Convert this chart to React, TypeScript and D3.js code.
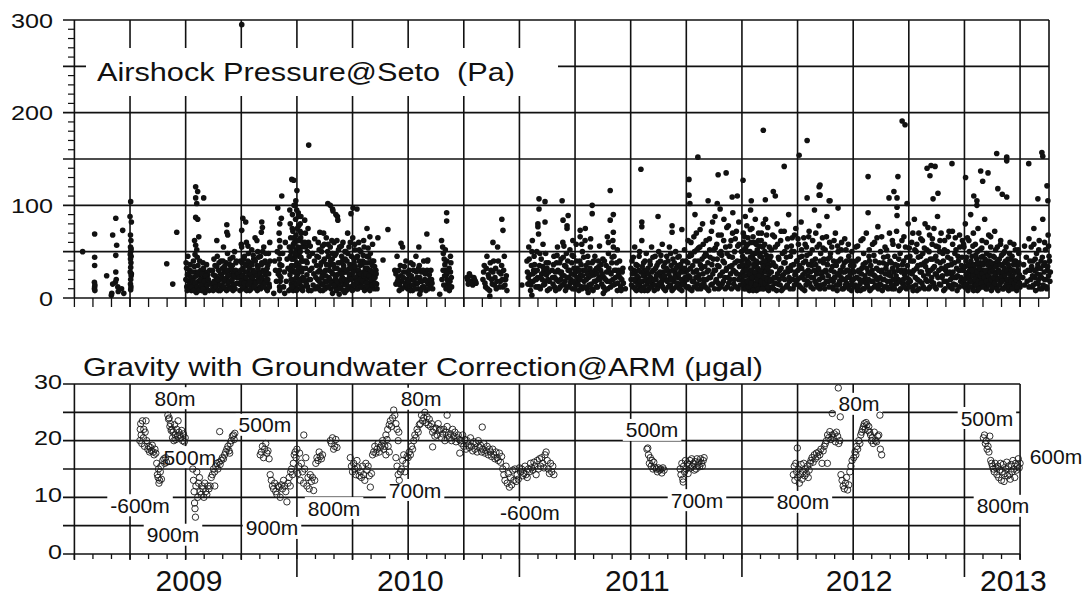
import { useEffect, useRef } from "react";
import * as d3 from "d3";

// Airshock pressure (Pa) as [thousandths of the year, value]
const pressure2008: [number, number][] = [
  [537,50],[591,69],[591,44],[591,35],[590,17],[592,14],[591,12],[590,10],[592,8],[645,24],[668,5],[666,3],[672,68],[686,86],[690,57],[686,46],[686,28],[688,20],[684,17],[672,15],[695,12],[697,7],[717,73],[722,5],[712,10],
  [753,104],[750,88],[756,82],[752,68],[754,62],[752,55],[753,50],[755,45],[752,42],[754,38],[753,33],[751,28],[755,24],[753,20],[752,15],[754,12],[753,9],[756,26],[751,47],[755,53],
  [915,37],[942,15],[960,71],
];
const pressure2009: [number, number][] = [
  [2,38],[5,12],[8,25],[12,18],[15,10],[18,30],[22,15],[25,8],[28,20],[32,12],[35,40],[38,22],[40,10],[44,28],[46,16],[48,6],
  [45,120],[54,115],[45,108],[81,108],[50,102],[45,87],[54,85],[40,62],[45,57],[50,52],[42,47],[52,44],[59,66],
  [55,35],[58,18],[62,25],[65,12],[68,30],[70,20],[72,8],[76,15],[78,38],[82,22],[85,12],[88,28],[92,18],[95,10],[100,25],[104,15],[108,30],
  [140,62],[122,12],[125,25],[128,18],[132,35],[135,10],[138,22],[142,45],[145,15],[148,30],[152,20],[155,8],[158,40],[160,25],[163,14],[166,32],[170,55],[172,18],[175,28],[178,10],[182,38],[185,22],[188,48],[190,15],[194,30],[197,12],[200,42],[203,25],[206,18],[210,35],[213,8],[216,28],[220,50],[223,15],[226,38],[229,22],
  [185,79],[185,71],[189,68],[257,86],[270,82],[252,73],
  [243,15],[246,40],[249,25],[252,55],[255,10],[258,32],[261,20],[264,45],[267,28],[270,12],[273,60],[276,35],[279,18],[282,48],[285,25],[288,8],[291,38],[294,22],[297,52],[300,14],[303,30],[306,42],[309,18],[312,65],[315,25],[318,10],[321,35],[324,50],[327,20],[330,28],[333,12],[336,45],[339,22],[342,38],[345,15],[348,30],[351,55],[354,18],[357,40],[360,25],[363,10],[366,32],[369,20],[372,48],[375,15],
  [342,82],[345,76],[340,71],[378,60],[414,97],[423,80],[432,110],[430,86],
  [422,62],[424,55],[423,48],[421,42],[424,36],[422,30],[423,24],[425,18],[422,12],[423,8],[396,5],[445,5],
  [477,128],[486,127],[500,116],[495,105],
  [468,95],[470,80],[472,65],[474,50],[476,35],[478,20],[480,90],[482,72],[484,58],[486,42],[488,28],[490,12],[492,100],[494,85],[496,68],[498,52],[500,38],[502,25],[504,10],[506,92],[508,78],[510,62],[512,45],[514,30],[516,18],[518,88],[520,70],[522,55],[524,40],[526,22],[471,30],[475,15],[483,8],[489,60],[493,45],[497,22],[501,75],[505,55],[509,35],[513,15],[517,65],[521,40],[525,12],[479,75],[487,100],[499,95],[507,88],[515,80],
  [469,25],[473,10],[477,42],[481,55],[485,18],[491,35],[495,62],[499,15],[503,48],[507,28],[511,20],[515,50],[519,10],[523,32],[527,60],
  [535,84],[538,70],[540,55],[542,40],[545,25],[548,12],[550,75],[552,60],[555,45],[558,30],[537,18],[547,50],[553,8],[556,20],[553,165],
  [590,45],[593,20],[596,60],[599,10],[603,71],[605,35],[608,15],[611,50],[614,25],[617,8],[620,40],[623,58],[626,18],[629,30],[632,65],[635,12],[639,102],[641,45],[644,22],[647,35],[650,55],[653,10],[656,28],[659,42],[662,94],[664,18],[667,60],[670,32],[673,12],[676,48],[679,25],[682,88],[684,84],[686,38],[689,15],[692,55],
  [650,100],[660,96],[675,90],[752,97],[770,96],[743,91],[815,75],[828,66],[864,65],[909,74],[887,41],
  [695,30],[698,12],[701,45],[704,22],[707,60],[710,35],[713,15],[716,50],[719,28],[722,8],[725,40],[728,70],[731,20],[734,55],[737,32],[740,12],[745,45],[748,25],[751,65],[754,15],[757,38],[760,52],[763,20],[766,30],[769,10],[772,45],[775,25],[778,60],[781,15],[784,35],[787,50],[790,22],[793,12],[796,40],[799,28],[802,55],[805,18],[808,32],[811,10],[814,45],[818,22],[821,38],[824,15],[827,28],[830,48],[833,12],[836,25],[839,35],[842,18],[845,40],[848,10],[851,22],[855,30],[858,15],
  [700,18],[712,28],[724,14],[736,22],[748,10],[760,30],[772,16],[784,24],[796,12],[808,20],[820,30],[832,18],[844,26],
  [660,5],[690,4],[715,6],
  [940,30],[945,15],[950,45],[955,22],[960,8],[965,35],[970,18],[975,55],[980,28],[985,12],[990,40],[995,20],[998,10],[968,59],
];
// denser core of the 2009 swarms
const pressure2009b: [number, number][] = [
  [1,20],[4,32],[7,8],[10,45],[13,26],[16,14],[20,36],[23,22],[26,12],[30,28],[33,18],[36,8],[39,34],[42,16],[47,24],[52,12],[57,28],[60,8],[63,40],[66,20],[69,14],[73,26],[77,10],[80,32],[84,18],[87,6],[90,24],[94,36],[97,14],[102,20],[106,8],[109,16],
  [121,30],[124,8],[127,42],[130,16],[134,24],[137,12],[140,34],[144,20],[147,8],[150,38],[154,14],[157,26],[161,10],[164,22],[168,40],[171,12],[174,34],[177,20],[180,28],[184,8],[187,30],[191,24],[195,18],[198,36],[202,10],[205,32],[209,20],[212,44],[215,14],[218,24],[222,10],[225,30],[228,40],[232,16],[234,26],
  [241,22],[244,8],[247,30],[250,18],[253,38],[256,24],[259,12],[262,42],[265,16],[268,36],[271,22],[274,8],[277,28],[280,40],[283,14],[286,32],[289,18],[292,26],[295,10],[298,36],[301,22],[304,46],[307,12],[310,28],[313,40],[316,16],[319,24],[322,8],[325,32],[328,44],[331,18],[334,26],[337,10],[340,36],[343,22],[346,50],[349,12],[352,28],[355,38],[358,16],[361,30],[364,20],[367,8],[370,36],[373,26],[376,12],[379,40],
  [400,40],[404,30],[408,18],[412,50],[416,26],[420,70],[428,22],[432,35],[436,48],[440,12],[444,28],[448,60],[452,18],[456,42],[460,32],[464,8],[466,55],[470,45],[474,20],[478,12],[482,30],[486,65],[490,48],[494,28],[498,8],[502,62],[506,32],[510,18],[514,72],[518,44],[522,28],[526,8],[530,40],[533,20],[536,60],[539,32],[543,15],[546,38],
  [561,20],[564,8],[567,32],[570,48],[573,14],[576,26],[579,40],[582,10],[585,22],[588,35],[591,12],[594,28],[597,44],[600,18],[602,30],[606,8],[609,38],[612,22],[615,56],[618,14],[621,28],[624,42],[627,10],[630,24],[633,36],[636,18],[638,50],[642,12],[645,30],[648,20],[651,40],[654,16],[657,62],[661,26],[665,36],[668,14],[671,46],[674,22],[677,8],[680,32],[683,18],[687,52],[690,26],[693,10],[696,38],[699,20],
  [702,26],[705,40],[708,8],[711,32],[714,20],[717,42],[720,14],[723,30],[726,18],[729,48],[732,10],[735,26],[738,36],[742,20],[746,32],[749,8],[753,28],[756,42],[759,14],[762,34],[765,22],[768,44],[771,18],[774,10],[777,30],[780,40],[783,20],[786,26],[789,12],[792,36],[795,18],[798,46],[801,24],[804,8],[807,38],[810,26],[813,16],[816,32],[819,12],[822,44],[825,24],[828,8],[831,30],[834,20],[837,40],[840,14],[843,28],[846,22],[849,34],[852,16],[856,26],[860,10],
  [945,26],[952,18],[958,30],[962,14],[967,24],[972,10],[978,22],[983,34],[988,16],[993,28],[997,14],
  [560,56],[580,64],[600,52],[620,70],[640,58],[660,48],[680,62],[700,56],[720,50],[740,60],[760,58],[780,52],[800,62],[820,54],[840,58],[250,58],[280,56],[320,62],[360,48],
];
const pressure2010: [number, number][] = [
  [3,25],[8,12],[12,38],[16,20],[20,8],[25,30],[30,15],[35,45],[40,22],[45,10],[50,35],[55,18],[60,28],[65,12],[70,40],[75,20],[80,8],[85,30],[90,15],[95,25],[100,12],[105,20],[110,10],
  [48,55],[84,69],[88,41],[52,4],
  [150,62],[155,55],[158,48],[162,42],[165,36],[168,30],[172,25],[175,20],[178,15],[182,10],[185,8],[188,18],[190,28],[192,38],[195,12],[173,92],[173,83],[142,4],
  [264,22],[270,15],[275,26],[282,18],[290,14],[298,20],[305,16],
  [336,20],[342,35],[348,12],[354,45],[360,25],[366,8],[372,30],[378,15],[384,40],[390,22],[396,10],[402,55],[408,28],[414,18],[420,35],[426,12],[432,45],[438,20],[444,8],
  [421,85],[426,73],[381,60],[367,2],[511,14],
  [534,40],[538,15],[542,55],[546,25],[550,8],[554,35],[558,62],[562,18],[566,45],[570,28],[574,12],[578,50],[582,22],[586,69],[590,35],[594,10],[598,42],[602,20],[606,58],[610,30],[614,15],[618,48],[622,25],[626,8],[630,38],[634,18],
  [540,22],[552,14],[564,30],[576,20],[588,12],[600,26],[612,18],[624,32],
  [588,107],[588,96],[583,80],[583,77],[615,104],[615,82],
  [647,30],[651,15],[655,45],[659,22],[663,8],[667,38],[671,55],[675,18],[679,28],[683,12],[687,42],[691,25],[695,60],[699,15],[703,35],[707,8],[711,48],[715,22],[719,30],[723,12],[727,52],[731,20],[735,38],[739,10],[743,45],[747,25],[751,15],[755,58],[759,32],[763,18],[767,8],[771,40],[775,25],[779,12],[783,50],[787,30],[791,18],[795,62],[799,35],[803,10],[807,45],[811,22],[815,28],[819,55],[823,15],[827,38],[831,8],[835,25],[839,45],[843,18],[847,32],[851,12],[855,40],[859,22],
  [692,105],[696,84],[719,89],[714,78],[714,75],[773,73],[773,66],[796,75],[827,100],[827,91],[556,3],[809,6],
  [908,116],[922,90],[908,84],[922,71],[920,62],[922,55],[895,66],[976,10],[877,5],
  [865,30],[870,15],[875,42],[880,22],[885,8],[890,35],[895,18],[900,48],[905,28],[910,12],[915,38],[920,20],[925,45],[930,15],[935,30],[940,8],[945,25],[950,40],[955,12],[960,20],[965,32],
];
const pressure2010b: [number, number][] = [
  [2,18],[6,30],[10,8],[14,24],[18,14],[22,36],[27,20],[32,10],[37,28],[42,16],[47,32],[52,22],[57,8],[62,18],[67,30],[72,12],[77,26],[82,18],[87,40],[92,10],[97,20],[102,30],[107,16],
  [152,20],[157,30],[160,14],[164,24],[167,52],[170,10],[174,40],[177,28],[180,18],[184,32],[187,12],[190,45],[194,22],
  [267,20],[278,24],[286,16],[295,22],[302,18],
  [339,28],[345,16],[351,32],[357,10],[363,22],[369,38],[375,20],[381,28],[387,14],[393,32],[399,18],[405,40],[411,12],[417,26],[423,20],[429,30],[435,14],[441,24],
  [536,28],[544,42],[548,18],[556,50],[560,26],[568,36],[572,20],[580,30],[584,12],[592,48],[596,22],[604,34],[608,14],[616,26],[620,38],[628,20],[632,28],[636,10],
  [649,22],[653,36],[657,12],[661,28],[665,20],[669,46],[673,30],[677,10],[681,38],[685,20],[689,28],[693,14],[697,44],[701,24],[705,18],[709,34],[713,12],[717,40],[721,22],[725,30],[729,16],[733,26],[737,46],[741,18],[745,32],[749,10],[753,28],[757,40],[761,22],[765,14],[769,30],[773,20],[777,36],[781,10],[785,24],[789,44],[793,12],[797,30],[801,20],[805,26],[809,38],[813,14],[817,32],[821,24],[825,10],[829,28],[833,40],[837,18],[841,30],[845,12],[849,26],[853,20],[857,34],
  [862,20],[867,36],[872,26],[877,12],[882,40],[887,20],[892,28],[897,10],[902,32],[907,18],[912,26],[917,44],[922,14],[927,30],[932,22],[937,38],[942,16],[947,30],[952,22],[957,8],[962,28],[967,16],
  [700,56],[740,62],[780,58],[820,64],[860,56],[900,60],[940,52],
];
const pressure2011: [number, number][] = [
  [2,20],[6,40],[10,12],[14,30],[18,55],[22,18],[26,8],[30,35],[34,22],[38,45],[42,12],[46,28],[50,62],[54,18],[58,38],[62,8],[66,25],[70,48],[74,15],[78,32],[82,10],[86,40],[90,22],[94,55],[98,15],[102,30],[106,8],[110,45],[114,20],[118,35],[122,12],[126,50],[130,25],[134,40],[138,15],[142,58],[146,28],[150,10],[154,38],[158,20],[162,45],[166,30],[170,12],[174,55],[178,22],[182,35],[186,8],[190,42],[194,18],[198,28],[202,50],[206,12],[210,35],[214,22],[218,45],[222,15],[226,30],[230,8],[234,40],[238,20],[242,52],[246,28],[250,12],
  [20,28],[40,16],[60,30],[80,20],[100,14],[120,26],[140,18],[160,32],[180,14],[200,24],[220,34],[240,16],
  [46,139],[50,82],[50,77],[123,88],[186,78],[186,71],[230,74],[262,128],[262,111],[266,102],[302,152],[289,90],
  [255,30],[259,12],[263,45],[267,22],[271,60],[275,8],[279,35],[283,18],[287,50],[291,28],[295,70],[299,15],[303,40],[307,25],[311,55],[315,10],[319,32],[323,80],[327,20],[331,45],[335,12],[339,62],[343,28],[347,38],[351,8],[355,52],[359,22],[363,72],[367,15],[371,42],[375,30],[379,88],[383,18],[387,58],[391,35],[395,10],[399,48],[403,25],[407,68],[411,15],[415,40],[419,85],[423,22],[427,55],[431,32],[435,12],[439,78],[443,45],[447,20],[451,62],[455,35],[459,92],[463,15],[467,50],[471,28],[475,72],[479,40],[483,10],[487,58],[491,25],
  [393,133],[429,135],[348,105],[389,102],[402,96],[456,109],[479,110],[505,127],
  [500,20],[503,45],[506,70],[509,10],[512,32],[515,88],[518,55],[521,15],[524,40],[527,65],[530,25],[533,8],[536,50],[539,95],[542,30],[545,75],[548,12],[551,42],[554,60],[557,22],[560,85],[563,35],[566,8],[569,52],[572,18],[575,70],[578,28],[581,45],[584,12],[587,62],[590,38],[593,20],[596,80],[599,10],[602,50],[605,30],[608,15],[611,68],[614,42],[617,22],[620,8],[623,55],[626,35],[504,28],[510,52],[516,18],[522,78],[528,35],[534,15],[540,60],[546,45],[552,25],[558,12],[564,58],[570,38],[576,15],[582,48],[588,25],[594,55],[600,32],[606,85],[612,18],[618,40],[624,28],
  [507,14],[513,24],[519,36],[525,12],[531,20],[537,30],[543,18],[549,26],[555,34],[561,16],[567,24],[573,30],[579,10],[585,20],[591,28],[597,14],[603,22],[609,36],[615,12],[621,18],
  [596,181],[542,105],[605,106],[641,115],[650,110],[690,142],
  [630,45],[634,20],[638,68],[642,10],[646,35],[650,55],[654,22],[658,80],[662,15],[666,42],[670,30],[674,62],[678,8],[682,48],[686,25],[690,72],[694,38],[698,12],[702,55],[706,28],[710,90],[714,18],[718,45],[722,35],[726,65],[730,10],[734,50],[738,25],[742,75],[746,40],
  [757,154],[793,170],[793,108],[847,120],[847,111],[892,105],
  [750,20],[754,58],[758,35],[762,12],[766,82],[770,45],[774,25],[778,65],[782,8],[786,40],[790,55],[794,18],[798,30],[802,72],[806,48],[810,12],[814,35],[818,62],[822,22],[826,95],[830,42],[834,15],[838,55],[842,30],[846,78],[850,10],[854,48],[858,25],[862,65],[866,38],[870,15],[874,52],[878,28],[882,88],[886,42],[890,18],[894,60],
  [851,122],[851,111],[896,105],[932,97],
  [900,30],[904,55],[908,12],[912,40],[916,22],[920,70],[924,35],[928,8],[932,50],[936,25],[940,15],[944,42],[948,60],[952,28],[956,10],[960,38],[964,20],[968,52],[972,30],[976,12],[980,45],[984,22],[988,35],[992,8],[996,28],
  [910,18],[930,14],[950,20],[970,16],[990,14],
];
const pressure2011b: [number, number][] = [
  [1,32],[4,14],[8,26],[12,44],[16,20],[20,10],[24,36],[28,24],[32,14],[36,30],[40,50],[44,18],[48,8],[52,34],[56,24],[60,12],[64,40],[68,20],[72,30],[76,8],[80,26],[84,18],[88,36],[92,12],[96,28],[100,44],[104,20],[108,14],[112,32],[116,24],[120,10],[124,38],[128,16],[132,28],[136,46],[140,22],[144,12],[148,34],[152,24],[156,8],[160,30],[164,18],[168,40],[172,26],[176,14],[180,48],[184,20],[188,30],[192,10],[196,38],[200,22],[204,32],[208,16],[212,44],[216,26],[220,10],[224,36],[228,20],[232,28],[236,14],[240,32],[244,22],[248,40],
  [253,20],[257,38],[261,24],[265,10],[269,32],[273,46],[277,18],[281,28],[285,12],[289,40],[293,22],[297,30],[301,10],[305,54],[309,20],[313,36],[317,14],[321,42],[325,26],[329,16],[333,34],[337,48],[341,20],[345,10],[349,30],[353,22],[357,44],[361,14],[365,36],[369,26],[373,52],[377,10],[381,30],[385,20],[389,42],[393,16],[397,34],[401,24],[405,12],[409,46],[413,28],[417,18],[421,38],[425,10],[429,30],[433,48],[437,22],[441,16],[445,34],[449,26],[453,10],[457,44],[461,30],[465,20],[469,38],[473,12],[477,26],[481,56],[485,20],[489,34],[493,14],[497,40],
  [501,36],[505,18],[508,60],[511,24],[514,42],[517,10],[520,30],[523,50],[526,18],[529,12],[532,38],[535,26],[538,44],[541,16],[544,30],[547,22],[550,8],[553,36],[556,48],[559,28],[562,14],[565,40],[568,20],[571,32],[574,10],[577,24],[580,56],[583,30],[586,18],[589,44],[592,10],[595,34],[598,22],[601,40],[604,16],[607,28],[610,46],[613,20],[616,32],[619,12],[622,26],[625,42],[628,18],
  [632,28],[636,12],[640,38],[644,22],[648,16],[652,34],[656,8],[660,26],[664,44],[668,20],[672,14],[676,32],[680,24],[684,10],[688,38],[692,20],[696,28],[700,44],[704,14],[708,32],[712,22],[716,10],[720,30],[724,50],[728,20],[732,36],[736,14],[740,28],[744,18],[748,40],[752,30],[756,14],[760,44],[764,22],[768,32],[772,10],[776,38],[780,20],[784,28],[788,14],[792,46],[796,24],[800,36],[804,16],[808,28],[812,22],[816,40],[820,10],[824,30],[828,18],[832,36],[836,26],[840,12],[844,32],[848,20],[852,40],[856,14],[860,28],[864,22],[868,42],[872,10],[876,30],[880,18],[884,36],[888,24],[892,12],[896,44],[902,20],[906,34],[910,10],[914,28],[918,22],[922,36],[926,14],[930,26],[934,40],[938,18],[942,30],[946,22],[950,10],[954,34],[958,20],[962,28],[966,14],[970,40],[974,22],[978,30],[982,10],[986,26],[990,40],[994,18],[998,30],
  [258,62],[270,48],[284,66],[298,52],[312,74],[326,58],[340,46],[354,64],[368,82],[380,54],[394,68],[406,50],[418,62],[432,76],[446,56],[458,70],[470,64],[486,82],[498,50],[512,66],[526,58],[538,74],[550,66],[562,48],[574,62],[588,70],[602,58],[616,76],[632,52],[646,66],[660,58],[676,72],[692,50],[706,64],[722,56],[736,68],[752,64],[768,52],[784,58],[800,66],[816,52],[832,70],[848,58],[864,54],[880,66],[898,48],[914,62],[930,56],[946,52],[962,64],[978,58],[994,50],
];
const pressure2012: [number, number][] = [
  [67,131],[201,131],[220,191],[233,187],[67,92],[161,108],[183,115],[197,108],[111,77],[197,98],[197,89],[242,102],
  [3,35],[7,12],[11,55],[15,22],[19,8],[23,42],[27,28],[31,15],[35,62],[39,32],[43,10],[47,48],[51,20],[55,38],[59,70],[63,15],[67,28],[71,45],[75,8],[79,35],[83,18],[87,58],[91,25],[95,12],[99,40],[103,22],[107,65],[115,30],[119,15],[123,50],[127,28],[131,8],[135,38],[139,20],[143,55],[147,32],[151,12],[155,45],[159,25],[163,70],[167,18],[171,38],[175,10],[179,58],[183,28],[187,45],[191,15],[195,72],[199,35],[203,20],[207,8],[211,48],[215,30],[219,62],[223,15],[227,40],[231,25],[235,55],[239,10],[243,35],[247,80],[251,20],[255,45],
  [332,140],[350,143],[368,142],[345,132],[444,145],[359,107],[381,113],
  [259,28],[263,60],[267,12],[271,40],[275,85],[279,22],[283,50],[287,8],[291,35],[295,70],[299,18],[303,45],[307,28],[311,62],[315,12],[319,38],[323,80],[327,20],[331,52],[335,30],[339,10],[343,68],[347,42],[351,18],[355,58],[359,32],[363,75],[367,12],[371,45],[375,25],[379,88],[383,55],[387,15],[391,38],[395,70],[399,22],[403,48],[407,8],[411,62],[415,30],[419,18],[423,50],[427,35],[431,72],[435,12],[439,42],[443,25],[447,58],[451,15],[455,38],[459,65],[463,22],[467,8],[471,45],[475,30],[479,55],[483,18],[487,35],[491,62],
  [505,130],[573,137],[606,135],[582,126],[645,156],[690,152],[690,148],[789,145],[848,157],[852,153],[871,121],[830,107],[875,105],[650,118],[670,112],[690,109],[542,110],[556,105],[556,100],
  [495,30],[498,55],[501,12],[504,80],[507,40],[510,22],[513,65],[516,8],[519,35],[522,50],[525,18],[528,90],[531,28],[534,45],[537,12],[540,70],[543,32],[546,15],[549,58],[552,25],[555,42],[558,8],[561,75],[564,35],[567,20],[570,52],[573,12],[576,30],[579,62],[582,45],[585,18],[588,38],[591,85],[594,25],[597,10],[600,48],[603,30],[606,15],[609,68],[612,40],[615,22],[618,55],[621,8],[624,35],[627,18],[630,45],[633,28],[636,72],[639,12],[642,38],[645,22],[648,55],[651,8],[654,30],[657,42],[660,15],[663,62],[666,25],[669,35],[672,10],[675,48],[678,20],[681,38],[684,12],[687,55],[690,28],[693,18],[696,42],[699,8],[702,32],[705,60],[708,22],[711,15],[714,45],[717,30],[720,12],[723,40],[726,20],[729,52],[732,28],[735,8],[738,35],[741,18],[744,48],[747,25],[750,12],
  [508,25],[512,15],[518,28],[524,20],[530,35],[536,25],[542,18],[548,30],[554,22],[560,12],[566,28],[572,38],[578,20],[584,30],[590,15],[596,25],[602,40],[608,20],[614,32],[620,15],[626,28],[632,18],[638,35],[644,12],[650,28],[656,20],
  [796,30],[800,55],[804,12],[808,40],[812,75],[816,22],[820,8],[824,48],[828,32],[832,15],[836,62],[840,25],[844,40],[848,10],[852,85],[856,35],[860,20],[864,52],[868,12],[872,30],[876,68],[880,45],[884,18],[886,28],
];
const pressure2012b: [number, number][] = [
  [1,20],[5,28],[9,14],[13,40],[17,22],[21,12],[25,30],[29,20],[33,8],[37,26],[41,18],[45,36],[49,10],[53,24],[57,16],[61,32],[65,12],[69,20],[73,40],[77,26],[81,10],[85,30],[89,18],[93,46],[97,24],[101,14],[105,32],[109,20],[113,10],[117,38],[121,22],[125,14],[129,30],[133,20],[137,44],[141,12],[145,26],[149,36],[153,18],[157,10],[161,28],[165,40],[169,24],[173,14],[177,32],[181,20],[185,10],[189,36],[193,24],[197,16],[201,30],[205,42],[209,18],[213,10],[217,28],[221,36],[225,20],[229,12],[233,30],[237,22],[241,44],[245,16],[249,28],[253,12],
  [257,18],[261,40],[265,26],[269,8],[273,30],[277,52],[281,14],[285,32],[289,20],[293,44],[297,10],[301,28],[305,36],[309,16],[313,48],[317,24],[321,10],[325,34],[329,40],[333,18],[337,26],[341,50],[345,12],[349,30],[353,22],[357,42],[361,16],[365,34],[369,26],[373,10],[377,40],[381,22],[385,30],[389,50],[393,14],[397,32],[401,24],[405,40],[409,18],[413,10],[417,34],[421,26],[425,44],[429,14],[433,28],[437,20],[441,36],[445,10],[449,28],[453,22],[457,48],[461,14],[465,32],[469,24],[473,40],[477,12],[481,30],[485,22],[489,44],[493,16],
  [500,20],[503,34],[506,14],[509,44],[512,26],[515,10],[517,36],[520,22],[523,30],[526,12],[529,40],[532,18],[535,30],[538,24],[541,8],[544,36],[547,20],[550,46],[553,14],[556,28],[559,38],[562,18],[565,10],[568,32],[571,24],[574,44],[577,16],[580,26],[583,36],[586,12],[589,22],[592,42],[595,30],[598,18],[601,10],[604,36],[607,24],[610,14],[613,46],[616,28],[619,20],[622,38],[625,12],[628,30],[631,22],[634,44],[637,16],[640,26],[643,34],[646,10],[649,40],[652,20],[655,28],[658,14],[661,36],[664,22],[667,46],[670,18],[673,28],[676,10],[679,32],[682,24],[685,40],[688,14],[691,30],[694,20],[697,36],[700,12],[703,26],[706,42],[709,18],[712,30],[715,10],[718,24],[721,36],[724,16],[727,28],[730,40],[733,20],[736,12],[739,30],[742,22],[745,38],[748,16],
  [762,22],[766,36],[770,14],[774,28],[778,44],[782,18],[786,30],[790,12],[794,40],[798,20],[802,34],[806,24],[810,14],[814,30],[818,42],[822,16],[826,26],[830,36],[834,20],[838,10],[842,32],[846,22],[850,44],[854,14],[858,28],[862,38],[866,20],[870,10],[874,34],[878,24],[882,40],
  [20,56],[44,64],[72,52],[96,60],[128,66],[150,52],[176,62],[204,56],[228,66],[252,54],[268,70],[286,58],[304,64],[320,54],[336,76],[356,64],[372,56],[390,62],[410,52],[428,66],[446,72],[462,52],[478,68],[496,58],[520,62],[538,56],[558,50],[578,54],[598,60],[618,66],[640,52],[662,58],[680,50],[702,48],[722,58],[742,52],[770,56],[790,64],[812,58],[834,52],[860,60],[878,56],
];
// single outlier near 295 Pa
const pressureOutlier: [number, number][] = [[252, 295]];

// Gravity with groundwater correction (µgal) as [thousandths of the year, value]
const gravity2008: [number, number][] = [
  [794,20],[796,22],[798,23],[800,21],[803,19.5],[806,23.5],[810,20.5],[812,22],[815,19],[818,21.5],[822,23.5],[825,20],
  [830,18.5],[834,19],[838,18],[842,18.8],[846,18.2],[850,19.2],[854,18],[858,17.5],[862,18.5],[866,17.8],
  [870,16],[873,14],[876,13.5],[878,15],[880,12.5],[883,13],[886,14.5],[889,15.5],[891,13.2],
  [897,16.5],[902,16.8],[906,16],[910,17],[914,16.2],
  [920,24.5],[923,23.8],[926,24],[929,22.5],[932,23],[935,21.8],[938,22],[941,20.5],[944,21.5],[947,20],[950,22.8],[953,21],[956,20.2],[960,22],[963,20.8],[966,23.5],[970,21.5],[974,21],[978,20.5],[982,21.8],[986,20],[990,21.2],[994,19.8],[998,20.5],
];
const gravity2009: [number, number][] = [
  [32,15],[35,13],[38,11],[40,9],[42,8],[44,6.5],[46,12],[50,14.5],[54,10],[58,12.5],[62,13.5],
  [65,11],[70,10.5],[74,12],[78,11.5],[82,10],[86,12.5],[90,11],[95,10.5],[100,12],[105,11.5],
  [110,12],[115,13.5],[120,14],[125,15],[130,14.5],[135,15.5],[140,16],[145,15],[150,16.2],[155,15.8],[160,16.5],[165,17],[170,16.8],[175,17.5],[153,21.6],[131,12],
  [180,18],[185,18.5],[190,19],[195,18.2],[200,19.5],[205,20],[210,20.8],[215,21],[218,20.2],[221,21.3],[198,17.8],
  [335,17.5],[340,18],[345,19],[350,17],[355,18.5],[360,19.5],[365,17.8],[370,18.2],[375,16.8],
  [380,14],[385,13],[390,12],[395,11.5],[400,12.5],[405,11],[410,10.5],[415,12],[420,11.8],[425,10],[430,12.2],[435,11.5],[440,13],[445,12],[450,11],[455,9.2],[460,12.5],[465,13.5],[470,12],
  [472,14.5],[476,15],[480,14],[484,16],[488,17.5],[492,18],[496,17],[500,18.5],[504,14.2],[508,15.5],[512,17.8],[531,21],
  [515,13],[520,16],[525,14.5],[530,12.5],[535,15],[540,17],[545,12],[550,13.5],[555,11.5],[560,14],[565,12.8],[570,13.5],[575,11.2],[580,13],
  [585,16],[590,17],[595,16.5],[600,18],[605,17.2],[610,16.8],[615,17.5],
  [650,20],[655,19.5],[660,20.5],[665,18.5],[670,19],[675,20.2],[680,18.8],
  [740,17],[745,15.5],[750,14.5],[755,16],[760,15],[765,14],[770,16.5],[775,15.2],[780,13.8],[785,14.5],[790,13.5],[795,15.5],[800,14],[805,13],[810,16],[815,14.8],[820,15.5],[825,13.8],[830,11.8],[835,14.2],
  [840,17.5],[845,18],[850,19],[855,17.8],[860,18.5],[865,19.5],[870,18],[875,18.8],[880,19.2],[885,20],[890,18.5],[895,19],[900,17.5],[905,20.2],[910,19],[915,18],
  [900,21],[908,22],[915,22.8],[920,23.5],[925,22.5],[930,24],[935,25.4],[940,24.5],[945,23],[950,22],[955,20],[958,21.5],
  [945,17],[950,15.5],[955,14],[960,13],[965,14.5],[970,15],[975,16.5],[980,17.5],[985,14.5],[990,16],[995,17.2],
];
const gravity2010: [number, number][] = [
  [0,17],[5,18],[10,17.5],[15,19],[20,18.5],[25,20],[30,21],[35,20.5],[40,22],[45,21.5],[50,22.8],
  [55,23],[60,24.5],[65,23.5],[70,24],[75,25],[80,23.2],[85,24.2],[90,22.8],[95,23.8],
  [100,22.5],[105,23],[110,21.5],[115,22],[120,20.8],[125,22.2],[130,21],[135,23],[140,21.8],[145,22],[150,20.5],[155,21.2],[160,22],[165,20],[170,21.5],[175,22.5],[180,21],[185,20.5],[190,21.2],[195,20],[200,22],[205,20.8],[210,21.5],[215,19.8],[220,20.5],[225,21],[230,20.2],[175,24.5],[110,18.9],
  [235,20],[240,19.5],[245,21],[250,19],[255,20.2],[260,18.5],[265,20],[270,19.2],[275,18.8],[280,20.5],[285,19],[290,18.2],[295,19.8],[300,18.5],[305,19.5],[310,18],[315,20],[320,18.8],[325,19.2],[330,18],[335,18.5],[340,19.5],[345,17.8],[350,18.2],[355,19],[360,17.5],[365,18.5],[333,22.4],[232,17.8],
  [370,18],[375,17.2],[380,18.5],[385,17.5],[390,16.8],[395,18],[400,17],[405,16.5],[410,17.8],[415,16.2],[420,17.2],
  [425,15],[430,14],[435,13],[440,15.5],[445,12.5],[450,14.2],[455,11.8],[460,13.5],[465,12.2],[470,14.8],[475,13],[480,15],[485,12.8],[490,14],[495,13.2],[500,15.2],
  [505,14.5],[510,15],[515,13.8],[520,14.2],[525,15.5],[530,14],[535,13.5],[540,15],[545,14.5],[550,16],[555,15.2],[560,14.8],[565,16.2],[570,15.5],[575,14],[580,16.5],[585,15],[590,16.8],[595,15.5],[600,17],[605,16],[610,15.2],
  [615,17.5],[620,18],[625,16.5],[630,15],[635,14.2],[640,16],[645,14.5],[650,15.5],[655,14],
];
const gravity2011: [number, number][] = [
  [73,18.5],[77,18.7],[80,17.5],[84,16],[88,17],[92,15.5],[96,16.5],[100,15],[104,16.2],[108,15.3],
  [115,15],[120,14.5],[125,15.2],[130,14.8],[135,15],[140,14.3],[145,15.2],[150,14.8],
  [222,15],[226,14],[230,16],[234,13.2],[238,15.5],[242,14.5],[246,16.5],[250,15],[254,16],[258,14.2],[262,15.8],[266,16.5],[270,15.2],[274,16.8],[278,15.5],[282,16],[286,14.8],[290,16.3],[294,15],[298,16.8],[302,15.6],[306,16.2],[310,15.4],[314,16.8],[318,16],[322,15.5],[326,16.5],[330,17],[236,12.7],
  [731,14],[735,15.5],[738,13],[742,16],[746,14.5],[750,13.5],[754,15],[758,12.5],[762,14],[766,15.8],[770,13.2],[774,14.5],[778,16],[782,13.8],[786,15],[790,14.2],[794,15.5],[798,13.5],[802,14.8],[806,16],[749,18.7],
  [810,16.5],[815,17],[820,16.2],[825,17.5],[830,16.8],[835,17.8],[840,17.2],[845,18],[850,17.5],[855,18.5],[860,16],[865,18.2],[870,19],
  [875,19.5],[880,20],[885,21],[890,20.5],[895,21.6],[900,20.2],[905,21],[910,20.5],[915,21.2],[920,19.8],[925,21.5],[930,20.8],[935,19.5],[940,20],[884,16],[906,24.8],[933,29.3],[942,24.2],
  [945,14],[950,13],[955,12],[960,11.5],[965,12.5],[970,13.5],[975,11.3],[980,12.2],[985,14.5],[990,15.5],[995,16.5],
];
const gravity2012: [number, number][] = [
  [3,17],[8,18],[12,17.5],[16,19],[20,18.5],[25,20],[30,19.5],
  [34,21],[38,21.5],[42,22],[46,22.5],[50,23],[54,22],[58,23.2],[62,22.8],[66,21.8],[70,22.5],[74,21.5],
  [78,21],[82,20],[86,20.5],[90,19.5],[95,21.5],[100,20],[105,19.8],[110,20.8],[115,21],[120,24.5],[122,18.5],[128,17.5],
  [585,20.5],[590,21],[594,19.5],[598,20],[602,18.5],[606,19],[610,18],[614,20.8],
  [618,16.5],[622,16],[626,15.5],[630,15],[634,14.5],[638,16],[642,15.2],[646,14],[650,15.5],[654,13.5],[658,14.8],[662,16],[666,13],[670,14.5],[674,15.8],[678,12.8],[682,14.2],[686,15],[690,16.2],[694,13.8],[698,15.5],[702,14],[706,13.2],[710,15.8],[714,14.5],[718,16.5],[722,15],[726,13.5],[730,16],[734,14.8],[738,15.5],[742,16.8],[746,15.2],[750,16],
];

const pressureTicks = [0, 100, 200, 300];
const gravityTicks = [0, 10, 20, 30];
const yearLabels = ["2009", "2010", "2011", "2012", "2013"];
const yearLabelAt = [2009.015, 2010.01, 2011.03, 2012.027, 2012.72];

// distance annotations: [text, year, µgal]
const distanceNotes: [string, number, number][] = [
  ["80m", 2008.952, 27.5], ["500m", 2009.356, 22.8], ["500m", 2009.019, 17.1],
  ["-600m", 2008.795, 8.6], ["900m", 2008.943, 3.4], ["900m", 2009.388, 4.6],
  ["800m", 2009.667, 8.1], ["80m", 2010.058, 27.4], ["700m", 2010.031, 11.3],
  ["-600m", 2010.547, 7.4], ["500m", 2011.096, 21.9], ["700m", 2011.298, 9.5],
  ["80m", 2012.026, 26.5], ["500m", 2012.601, 24.0], ["600m", 2012.911, 17.3],
  ["800m", 2011.774, 9.2], ["800m", 2012.673, 8.5],
];

const toPoints = (year: number, rows: [number, number][]) =>
  rows.map(([m, v]) => ({ t: year + m / 1000, v }));

const FONT = "'Liberation Sans', Arial, Helvetica, sans-serif";
const INK = "#111";

const App = () => {
  const svgRef = useRef<SVGSVGElement>(null);

  useEffect(() => {
    if (!svgRef.current) return;
    d3.select(svgRef.current).selectAll("*").remove();

    const width = 1089;
    const height = 598;
    const svg = d3.select(svgRef.current)
      .attr("width", width)
      .attr("height", height)
      .style("font-family", FONT);

    svg.append("rect").attr("width", width).attr("height", height).attr("fill", "#fff");

    const x = d3.scaleLinear().domain([2008.5, 2012.88]).range([74.4, 1049]);
    const yTop = d3.scaleLinear().domain([0, 300]).range([298, 20]);
    const yBot = d3.scaleLinear().domain([0, 30]).range([554, 384]);

    const quarters = d3.range(1, 18).map(i => 2008.5 + i * 0.25);
    const months = d3.range(0, 53).map(i => 2008.5 + i / 12);
    const xLeft = x(2008.5);
    const xRightTop = x.range()[1];
    const xRightBot = x(2012.75);

    const line = (g: d3.Selection<SVGGElement, unknown, null, undefined>, x1: number, y1: number, x2: number, y2: number) =>
      g.append("line").attr("x1", x1).attr("y1", y1).attr("x2", x2).attr("y2", y2)
        .attr("stroke", INK).attr("stroke-width", 1.6);

    // ---------- Top panel: airshock pressure
    const top = svg.append("g");
    d3.range(0, 301, 50).forEach(v => line(top, 63, yTop(v), xRightTop, yTop(v)));
    d3.range(10, 300, 10).filter(v => v % 50 !== 0)
      .forEach(v => line(top, 68, yTop(v), xLeft, yTop(v)).attr("stroke-width", 1.2));
    line(top, xLeft, yTop(300), xLeft, yTop(0));
    line(top, xRightTop, yTop(300), xRightTop, yTop(0));
    quarters.forEach(q => line(top, x(q), yTop(300), x(q), yTop(0) + 9));
    months.filter(m => x(m) < xRightTop - 2)
      .forEach(m => line(top, x(m), yTop(0), x(m), yTop(0) + 9).attr("stroke-width", 1.3));

    top.append("rect").attr("x", 86).attr("y", 48).attr("width", 472).attr("height", 48).attr("fill", "#fff");
    top.append("text")
      .attr("x", 97).attr("y", 81)
      .attr("font-size", 26)
      .attr("textLength", 418)
      .attr("lengthAdjust", "spacingAndGlyphs")
      .attr("fill", INK)
      .text("Airshock Pressure@Seto\u00a0\u00a0(Pa)");

    pressureTicks.forEach(v => {
      top.append("text")
        .attr("transform", `translate(53,${yTop(v)}) scale(1.2,1)`)
        .attr("text-anchor", "end")
        .attr("dy", "0.36em")
        .attr("font-size", 21)
        .attr("fill", INK)
        .text(v);
    });

    const pressure = [
      ...toPoints(2008, pressure2008),
      ...toPoints(2009, pressure2009), ...toPoints(2009, pressure2009b), ...toPoints(2009, pressureOutlier),
      ...toPoints(2010, pressure2010), ...toPoints(2010, pressure2010b),
      ...toPoints(2011, pressure2011), ...toPoints(2011, pressure2011b),
      ...toPoints(2012, pressure2012), ...toPoints(2012, pressure2012b),
    ];
    top.selectAll(".p")
      .data(pressure)
      .join("circle")
      .attr("cx", d => x(d.t))
      .attr("cy", d => yTop(d.v))
      .attr("r", 2.8)
      .attr("fill", "#111");

    // ---------- Bottom panel: gravity
    const bot = svg.append("g");
    d3.range(0, 31, 5).forEach(v => line(bot, 63, yBot(v), xRightBot, yBot(v)));
    line(bot, xLeft, yBot(30), xLeft, yBot(0) + 6);
    quarters.forEach(q => {
      const midYear = Math.abs(q - Math.floor(q) - 0.5) < 1e-6;
      line(bot, x(q), yBot(30), x(q), yBot(0) + (midYear ? 23 : 6));
    });
    months.filter(m => m <= 2012.751)
      .forEach(m => line(bot, x(m), yBot(0), x(m), yBot(0) + 5).attr("stroke-width", 1.3));

    const noteWidth = (s: string) =>
      d3.sum(s.split(""), c => (c === "m" ? 0.833 : c === "-" ? 0.333 : 0.556)) * 21;
    const notes = bot.selectAll(".note").data(distanceNotes).join("g");
    notes.append("rect")
      .attr("x", d => x(d[1]) - noteWidth(d[0]) / 2 - 3)
      .attr("y", d => yBot(d[2]) - 11)
      .attr("width", d => noteWidth(d[0]) + 6)
      .attr("height", 22)
      .attr("fill", "#fff");
    notes.append("text")
      .attr("x", d => x(d[1]))
      .attr("y", d => yBot(d[2]))
      .attr("dy", "0.36em")
      .attr("text-anchor", "middle")
      .attr("font-size", 21)
      .attr("fill", INK)
      .text(d => d[0]);

    const gravity = [
      ...toPoints(2008, gravity2008), ...toPoints(2009, gravity2009), ...toPoints(2010, gravity2010),
      ...toPoints(2011, gravity2011), ...toPoints(2012, gravity2012),
    ];
    bot.selectAll(".g")
      .data(gravity)
      .join("circle")
      .attr("cx", d => x(d.t))
      .attr("cy", d => yBot(d.v))
      .attr("r", 3.2)
      .attr("fill", "none")
      .attr("stroke", "#1a1a1a")
      .attr("stroke-width", 0.9);

    gravityTicks.forEach(v => {
      bot.append("text")
        .attr("transform", `translate(62,${yBot(v) - 3}) scale(1.2,1)`)
        .attr("text-anchor", "end")
        .attr("dy", "0.36em")
        .attr("font-size", 21)
        .attr("fill", INK)
        .text(v);
    });

    bot.append("text")
      .attr("x", 83).attr("y", 376)
      .attr("font-size", 25)
      .attr("textLength", 680)
      .attr("lengthAdjust", "spacingAndGlyphs")
      .attr("fill", INK)
      .text("Gravity with Groundwater Correction@ARM (\u03bcgal)");

    yearLabels.forEach((label, i) => {
      bot.append("text")
        .attr("x", x(yearLabelAt[i]))
        .attr("y", 591)
        .attr("text-anchor", "middle")
        .attr("font-size", 30)
        .attr("fill", INK)
        .text(label);
    });
  }, []);

  return (
    <div style={{ position: "absolute", left: 0, top: 0 }}>
      <svg ref={svgRef}></svg>
    </div>
  );
};

export default App;
